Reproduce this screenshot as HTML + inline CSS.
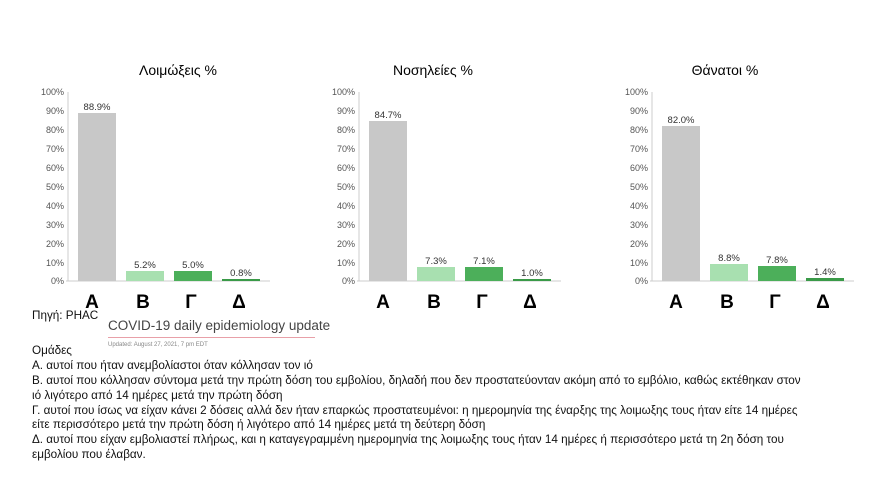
<!DOCTYPE html>
<html><head><meta charset="utf-8"><style>
body{margin:0;background:#fff;width:880px;height:481px;overflow:hidden;position:relative;font-family:"Liberation Sans","DejaVu Sans",sans-serif}
.t{position:absolute;left:32px;font-size:11.7px;color:#111;white-space:nowrap}
</style></head><body>
<svg width="880" height="312" style="position:absolute;left:0;top:0" font-family="Liberation Sans, DejaVu Sans, sans-serif">
<defs>
<g id="ax" font-size="9" fill="#555" text-anchor="end">
<line x1="68" y1="92" x2="68" y2="281" stroke="#ccc"/>
<line x1="66" y1="281" x2="270" y2="281" stroke="#ccc"/>
<text x="64" y="95">100%</text><text x="64" y="114">90%</text><text x="64" y="133">80%</text><text x="64" y="152">70%</text><text x="64" y="171">60%</text><text x="64" y="190">50%</text><text x="64" y="209">40%</text><text x="64" y="228">30%</text><text x="64" y="247">20%</text><text x="64" y="266">10%</text><text x="64" y="284">0%</text>
<g font-size="19" font-weight="bold" fill="#000" text-anchor="middle"><text x="92" y="308">Α</text><text x="143" y="308">Β</text><text x="191" y="308">Γ</text><text x="239" y="308">Δ</text></g>
</g>
</defs>
<g font-size="14" fill="#000" text-anchor="middle"><text x="178" y="75">Λοιμώξεις %</text><text x="433" y="75">Νοσηλείες %</text><text x="725" y="75">Θάνατοι %</text></g>
<use href="#ax"/><use href="#ax" x="291"/><use href="#ax" x="584"/>
<g font-size="9.5" fill="#333" text-anchor="middle">
<rect x="78" y="113" width="38" height="168" fill="#c8c8c8"/><text x="97" y="110">88.9%</text>
<rect x="126" y="271" width="38" height="10" fill="#a8e0b0"/><text x="145" y="268">5.2%</text>
<rect x="174" y="271" width="38" height="10" fill="#4caf5a"/><text x="193" y="268">5.0%</text>
<rect x="222" y="279" width="38" height="2" fill="#3a9a48"/><text x="241" y="276">0.8%</text>
<rect x="369" y="121" width="38" height="160" fill="#c8c8c8"/><text x="388" y="118">84.7%</text>
<rect x="417" y="267" width="38" height="14" fill="#a8e0b0"/><text x="436" y="264">7.3%</text>
<rect x="465" y="267" width="38" height="14" fill="#4caf5a"/><text x="484" y="264">7.1%</text>
<rect x="513" y="279" width="38" height="2" fill="#3a9a48"/><text x="532" y="276">1.0%</text>
<rect x="662" y="126" width="38" height="155" fill="#c8c8c8"/><text x="681" y="123">82.0%</text>
<rect x="710" y="264" width="38" height="17" fill="#a8e0b0"/><text x="729" y="261">8.8%</text>
<rect x="758" y="266" width="38" height="15" fill="#4caf5a"/><text x="777" y="263">7.8%</text>
<rect x="806" y="278" width="38" height="3" fill="#3a9a48"/><text x="825" y="275">1.4%</text>
</g>
</svg>
<div class="t" style="top:309px">Πηγή: PHAC</div>
<div style="position:absolute;left:108px;top:318px;font-size:13.5px;color:#444">COVID-19 daily epidemiology update</div>
<div style="position:absolute;left:108px;top:337px;width:207px;height:1px;background:#e8a0a8"></div>
<div style="position:absolute;left:108px;top:342px;font-size:6px;color:#888">Updated: August 27, 2021, 7 pm EDT</div>
<div class="t" style="top:344px">Ομάδες</div>
<div class="t" style="top:359px">Α. αυτοί που ήταν ανεμβολίαστοι όταν κόλλησαν τον ιό</div>
<div class="t" style="top:374px">Β. αυτοί που κόλλησαν σύντομα μετά την πρώτη δόση του εμβολίου, δηλαδή που δεν προστατεύονταν ακόμη από το εμβόλιο, καθώς εκτέθηκαν στον</div>
<div class="t" style="top:389px">ιό λιγότερο από 14 ημέρες μετά την πρώτη δόση</div>
<div class="t" style="top:404px">Γ. αυτοί που ίσως να είχαν κάνει 2 δόσεις αλλά δεν ήταν επαρκώς προστατευμένοι: η ημερομηνία της έναρξης της λοιμωξης τους ήταν είτε 14 ημέρες</div>
<div class="t" style="top:418px">είτε περισσότερο μετά την πρώτη δόση ή λιγότερο από 14 ημέρες μετά τη δεύτερη δόση</div>
<div class="t" style="top:433px">Δ. αυτοί που είχαν εμβολιαστεί πλήρως, και η καταγεγραμμένη ημερομηνία της λοιμωξης τους ήταν 14 ημέρες ή περισσότερο μετά τη 2η δόση του</div>
<div class="t" style="top:448px">εμβολίου που έλαβαν.</div>
</body></html>
